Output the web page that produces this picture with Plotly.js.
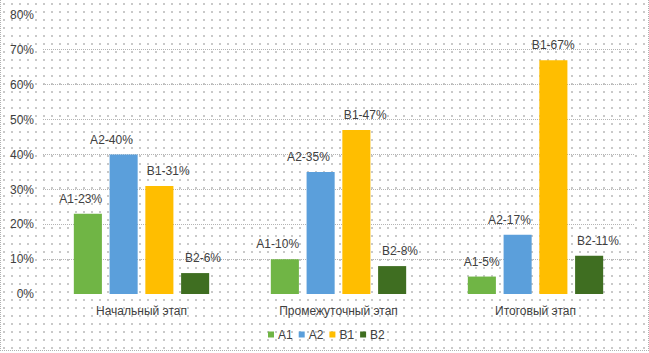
<!DOCTYPE html>
<html>
<head>
<meta charset="utf-8">
<script src="https://cdn.plot.ly/plotly-3.0.1.min.js"></script>
<style>
  html, body { margin: 0; padding: 0; }
  body {
    width: 649px; height: 353px; overflow: hidden;
    background-color: #ffffff;
    background-image: radial-gradient(circle at 1px 1px, #c9c9c9 0.75px, transparent 0.95px);
    background-size: 8px 8px;
    background-position: 3px 3px;
  }
  #chart { width: 647px; height: 350px; border-left: 1px dotted #b0b0b0; border-bottom: 1px dotted #b0b0b0; border-right: 1px dotted #b0b0b0; }
</style>
</head>
<body>
<div id="chart"></div>
<script>
const categories = ["Начальный этап", "Промежуточный этап", "Итоговый этап"];
const seriesNames = ["A1", "A2", "B1", "B2"];
const A1 = [0.23, 0.10, 0.05];
const A2 = [0.40, 0.35, 0.17];
const B1 = [0.31, 0.47, 0.67];
const B2 = [0.06, 0.08, 0.11];
const yTickVals = [0, 0.1, 0.2, 0.3, 0.4, 0.5, 0.6, 0.7, 0.8];
const yTickText = ["0%", "10%", "20%", "30%", "40%", "50%", "60%", "70%", "80%"];

const colors = ["#70B545", "#5B9FDB", "#FFBE00", "#3F6E21"];
const seriesValues = [A1, A2, B1, B2];
// horizontal nudges (px) of the value labels, as they were placed by hand in the original
const labelNudge = [[-7, -7, 0], [-12, -12, -8], [9, 9, 0], [8, 8, 9]];

const traces = seriesValues.map((vals, i) => ({
  type: "bar",
  name: seriesNames[i],
  x: categories,
  y: vals,
  text: vals.map(v => seriesNames[i] + "-" + Math.round(v * 100) + "%"),
  textposition: "outside",
  constraintext: "none",
  cliponaxis: false,
  textfont: { family: "Liberation Sans, Arial, sans-serif", size: 12, color: "#404040" },
  marker: { color: colors[i], line: { width: 0 } },
  hoverinfo: "skip"
}));

const layout = {
  width: 647, height: 350,
  margin: { l: 42, r: 14, t: 15, b: 56 },
  paper_bgcolor: "rgba(0,0,0,0)",
  plot_bgcolor: "rgba(0,0,0,0)",
  font: { family: "Liberation Sans, Arial, sans-serif", size: 12, color: "#404040" },
  barmode: "group",
  bargap: 0.274,
  bargroupgap: 0.215,
  showlegend: true,
  legend: {
    orientation: "h",
    xref: "container", yref: "container",
    x: 0.505, xanchor: "center",
    y: 0.044, yanchor: "middle",
    font: { size: 12, color: "#404040" },
    itemwidth: 30,
    entrywidth: 31,
    bgcolor: "rgba(0,0,0,0)"
  },
  xaxis: {
    type: "category",
    showgrid: false,
    showline: false,
    ticks: "",
    ticklabelstandoff: 8,
    tickfont: { size: 12, color: "#404040" }
  },
  yaxis: {
    range: [0, 0.8],
    tickvals: yTickVals,
    ticktext: yTickText,
    showgrid: true,
    gridcolor: "#b4b4b4",
    gridwidth: 1,
    griddash: "1px,1px",
    zeroline: false,
    showline: false,
    ticks: "",
    ticklabelstandoff: 8,
    tickfont: { size: 12, color: "#404040" }
  }
};

const gd = document.getElementById("chart");
Plotly.newPlot(gd, traces, layout, { displayModeBar: false, staticPlot: true }).then(() => {
  // lift the value labels a little higher above the bars and nudge them sideways, as in the original
  gd.querySelectorAll(".barlayer .trace").forEach((tg, i) => {
    tg.querySelectorAll(".point").forEach((pt, j) => {
      const t = pt.querySelector(".bartext");
      if (!t) return;
      const dx = (labelNudge[i] && labelNudge[i][j]) || 0;
      const tr = t.getAttribute("transform") || "";
      t.setAttribute("transform", "translate(" + dx + ",-5) " + tr);
    });
  });
  // compact legend: small squares close to their labels, like the original
  const legendG = gd.querySelector(".legend");
  if (!legendG) return;
  const m = /translate\(\s*([-\d.]+)[ ,]+([-\d.]+)\s*\)/.exec(legendG.getAttribute("transform") || "");
  const Lx = m ? parseFloat(m[1]) : 0;
  const items = legendG.querySelectorAll(".traces");
  const step = 30.7;
  const wanted = 326;
  const off = wanted - Lx - 76;
  items.forEach((g, i) => {
    const tm = /translate\(\s*([-\d.]+)[ ,]+([-\d.]+)\s*\)/.exec(g.getAttribute("transform") || "");
    const ty = tm ? parseFloat(tm[2]) : 0;
    g.setAttribute("transform", "translate(" + (off + i * step) + "," + ty + ")");
    const t = g.querySelector(".legendtext");
    if (t) t.setAttribute("x", 27);
    g.querySelectorAll(".legendpoints path").forEach(p => {
      p.setAttribute("d", "M3,3H-3V-3H3Z");
    });
  });
});
</script>
</body>
</html>
